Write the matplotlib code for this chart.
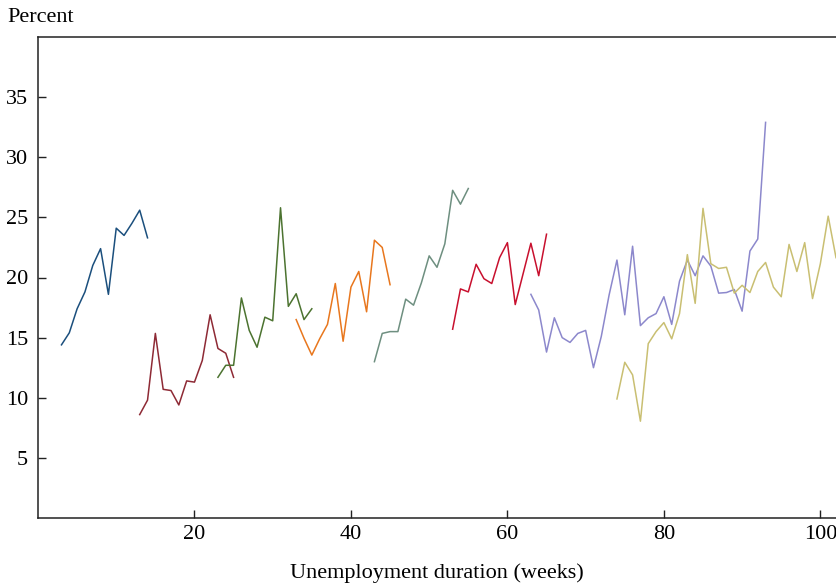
import matplotlib
matplotlib.use("Agg")
import matplotlib.pyplot as plt

plt.rcParams['font.family'] = ['Liberation Serif', 'DejaVu Serif']

# weeks and percent values, one array per spell group
weeks_1 = list(range(3, 15))
pct_1 = [14.4, 15.4, 17.4, 18.8, 21.0, 22.4, 18.6, 24.1, 23.5, 24.5, 25.6, 23.3]

weeks_2 = list(range(13, 26))
pct_2 = [8.6, 9.8, 15.35, 10.7, 10.6, 9.4, 11.4, 11.3, 13.1, 16.9, 14.1, 13.7, 11.7]

weeks_3 = list(range(23, 36))
pct_3 = [11.7, 12.7, 12.7, 18.3, 15.6, 14.2, 16.7, 16.4, 25.8, 17.6, 18.65, 16.5, 17.4]

weeks_4 = list(range(33, 46))
pct_4 = [16.5, 14.95, 13.55, 14.9, 16.1, 19.5, 14.7, 19.2, 20.5, 17.15, 23.1, 22.5, 19.4]

weeks_5 = list(range(43, 56))
pct_5 = [13.0, 15.35, 15.5, 15.5, 18.2, 17.7, 19.55, 21.8, 20.85, 22.8, 27.25, 26.1, 27.4]

weeks_6 = list(range(53, 66))
pct_6 = [15.7, 19.05, 18.8, 21.1, 19.9, 19.5, 21.65, 22.9, 17.75, 20.3, 22.85, 20.15, 23.6]

weeks_7 = list(range(63, 94))
pct_7 = [18.6, 17.3, 13.8, 16.65, 15.0, 14.6, 15.35, 15.6, 12.5, 15.1, 18.55, 21.45,
         16.9, 22.6, 16.0, 16.65, 17.0, 18.4, 16.1, 19.7, 21.45, 20.15, 21.8, 20.95,
         18.7, 18.75, 19.0, 17.2, 22.2, 23.2, 32.9]

weeks_8 = list(range(74, 103))
pct_8 = [9.9, 12.95, 11.9, 8.05, 14.5, 15.5, 16.25, 14.9, 17.0, 21.9, 17.85, 25.75,
         21.15, 20.75, 20.85, 18.7, 19.35, 18.75, 20.5, 21.25, 19.2, 18.4, 22.75,
         20.5, 22.9, 18.25, 21.15, 25.1, 21.65]

series = [
    (weeks_1, pct_1, '#1b4f7d'),
    (weeks_2, pct_2, '#8e2a35'),
    (weeks_3, pct_3, '#4c7330'),
    (weeks_4, pct_4, '#e8771e'),
    (weeks_5, pct_5, '#6e8f80'),
    (weeks_6, pct_6, '#c8102e'),
    (weeks_7, pct_7, '#8c88cc'),
    (weeks_8, pct_8, '#c9bf72'),
]

fig = plt.figure(figsize=(8.36, 5.84), dpi=100)
ax = fig.add_axes([38 / 836, 1 - 518 / 584, 1 - 38 / 836, (518 - 37) / 584])

for w, p, c in series:
    ax.plot(w, p, color=c, linewidth=1.1)

ax.set_xlim(0, 102)
ax.set_ylim(0, 40)
ax.set_xticks([20, 40, 60, 80, 100])
ax.set_yticks([5, 10, 15, 20, 25, 30, 35])
ax.tick_params(direction='in', length=6, width=1, labelsize=16, color='#222222')
ax.tick_params(axis='x', pad=5)
ax.tick_params(axis='y', pad=7)
ax.spines['right'].set_visible(False)
for s in ['left', 'bottom', 'top']:
    ax.spines[s].set_color('#222222')
    ax.spines[s].set_linewidth(1.1)

ax.set_xlabel('Unemployment duration (weeks)', fontsize=16, labelpad=14)
fig.text(7 / 836, 1 - 17 / 584, 'Percent', fontsize=16, va='center', ha='left')

fig.savefig('out.png', dpi=100)
